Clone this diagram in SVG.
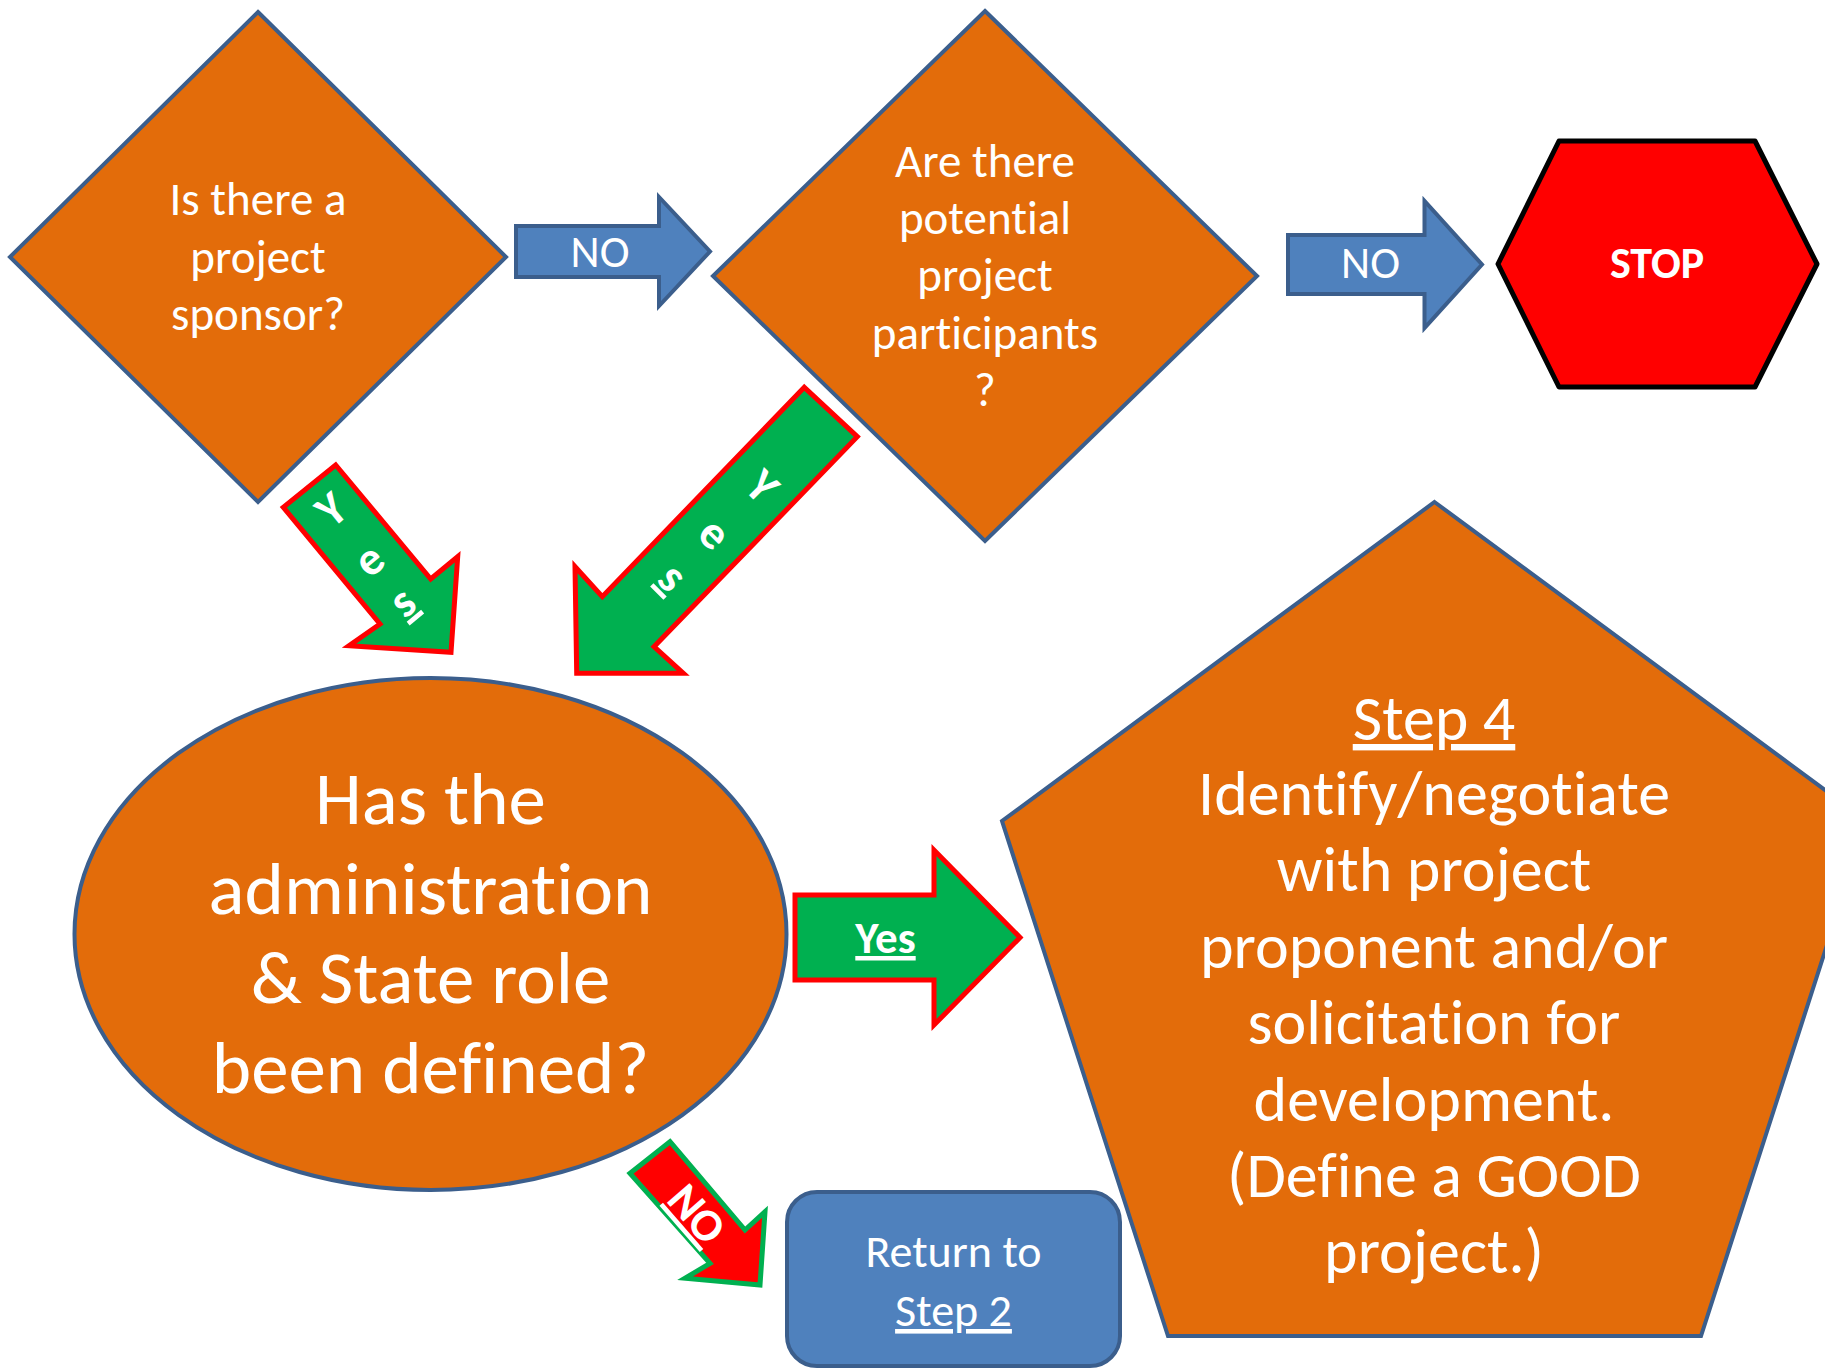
<svg xmlns="http://www.w3.org/2000/svg" width="1825" height="1369" viewBox="0 0 1825 1369">
<style>
text{font-family:Carlito,Calibri,"Liberation Sans",sans-serif;fill:#FFFFFF;text-anchor:middle;font-variant-ligatures:none;font-feature-settings:"liga" 0,"clig" 0}
.orange{fill:#E36C0A;stroke:#3B5E8C;stroke-width:4;stroke-linejoin:miter}
.blue{fill:#4F81BD;stroke:#3B5E8C;stroke-width:4}
.garrow{fill:#00B050;stroke:#FF0000;stroke-width:5}
.rarrow{fill:#FF0000;stroke:#00B050;stroke-width:5}
.b{font-weight:bold}
.u{text-decoration:underline}
</style>
<rect width="1825" height="1369" fill="#FFFFFF"/>

<g id="q1">
<polygon class="orange" points="258,12 506,257 258,502 10,257"/>
<text font-size="47"><tspan x="258" y="215">Is there a</tspan><tspan x="258" y="273">project</tspan><tspan x="258" y="330">sponsor?</tspan></text>
</g>

<g id="q2">
<polygon class="orange" points="985,11 1257,276 985,541 713,276"/>
<text font-size="47"><tspan x="985" y="177">Are there</tspan><tspan x="985" y="234">potential</tspan><tspan x="985" y="291">project</tspan><tspan x="985" y="349">participants</tspan><tspan x="985" y="406">?</tspan></text>
</g>

<g id="stop">
<polygon points="1559,141 1755,141 1817,264 1755,387 1559,387 1498,264" fill="#FF0000" stroke="#000000" stroke-width="5" stroke-linejoin="round"/>
<text class="b" font-size="44" x="1657" y="278">STOP</text>
</g>

<g id="q3">
<ellipse class="orange" cx="430.5" cy="934" rx="356" ry="256"/>
<text font-size="75"><tspan x="430.5" y="824">Has the</tspan><tspan x="430.5" y="914">administration</tspan><tspan x="430.5" y="1003">&amp; State role</tspan><tspan x="430.5" y="1093">been defined?</tspan></text>
</g>

<g id="step4">
<polygon class="orange" points="1434.5,502 1867,821 1701,1336 1168,1336 1002,821"/>
<text font-size="64"><tspan class="u" x="1434" y="740">Step 4</tspan><tspan x="1434" y="815">Identify/negotiate</tspan><tspan x="1434" y="891">with project</tspan><tspan x="1434" y="968">proponent and/or</tspan><tspan x="1434" y="1044">solicitation for</tspan><tspan x="1434" y="1121">development.</tspan><tspan x="1434" y="1197">(Define a GOOD</tspan><tspan x="1434" y="1273">project.)</tspan></text>
</g>

<g id="step2">
<rect class="blue" x="787" y="1192" width="333" height="174" rx="30" ry="30"/>
<text font-size="46"><tspan x="953.5" y="1267">Return to</tspan><tspan class="u" x="953.5" y="1326">Step 2</tspan></text>
</g>

<g id="connectors">
<g id="no1">
<polygon class="blue" points="516,226 659,226 659,197 710,251.5 659,306 659,277 516,277"/>
<text font-size="45" x="600" y="267">NO</text>
</g>
<g id="no2">
<polygon class="blue" points="1288,235 1424.5,235 1424.5,201 1482,264.5 1424.5,328 1424.5,294 1288,294"/>
<text font-size="45" x="1370.5" y="278">NO</text>
</g>
<g id="yes1">
<polygon class="garrow" points="335.7,465 430.7,579 457.7,556.7 451,652.3 349,645.7 380,624 283.3,507.3"/>
<text class="b" font-size="47" transform="translate(331.7,510) rotate(-39.5)" y="15">Y</text>
<text class="b" font-size="47" transform="translate(371.7,563.3) rotate(-39.5)" y="11">e</text>
<text class="b u" font-size="47" transform="translate(405,605) rotate(-39.5)" y="11">s</text>
</g>
<g id="yes2">
<polygon class="garrow" points="804.3,387.3 857.3,436.7 654,646.7 683.3,673.3 576.7,673.3 575,566.7 602.3,596.7"/>
<text class="b" font-size="47" transform="translate(761.7,486.7) rotate(45)" y="15">Y</text>
<text class="b" font-size="47" transform="translate(711.7,536.7) rotate(45)" y="11">e</text>
<text class="b u" font-size="47" transform="translate(670,580) rotate(45)" y="11">s</text>
</g>
<g id="yes3">
<polygon class="garrow" points="795,895 934,895 934,850 1020,937.5 934,1025 934,980 795,980"/>
<text class="b u" font-size="45" x="885.5" y="953">Yes</text>
</g>
<g id="no3">
<polygon class="rarrow" points="670,1141.7 745,1230 765,1211.7 760,1285 685,1278.3 710,1263.3 630,1173.3"/>
<text class="b u" font-size="46" transform="translate(696.7,1214) rotate(49)" y="15">NO</text>
</g>
</g>
</svg>
